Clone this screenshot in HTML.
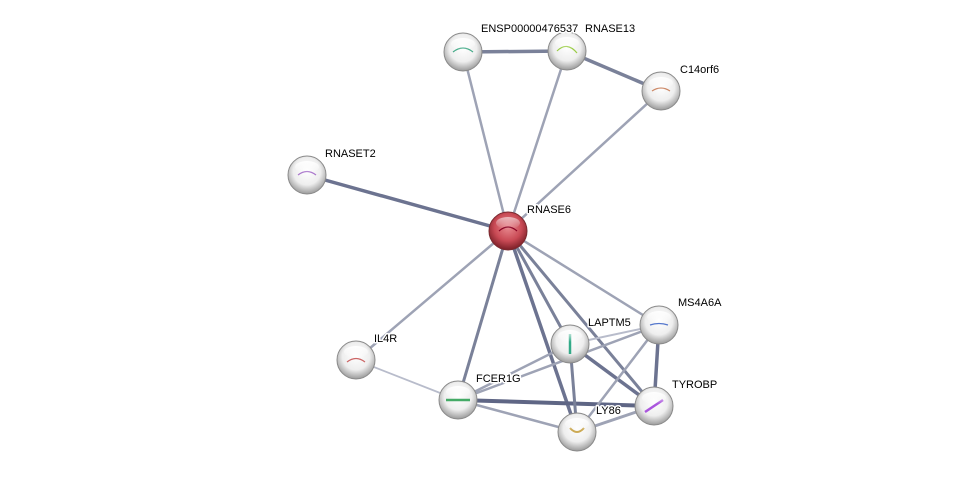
<!DOCTYPE html>
<html><head><style>
html,body{margin:0;padding:0;background:#fff;}
svg{display:block;}
text{font-family:"Liberation Sans",sans-serif;font-size:11px;fill:#000;paint-order:stroke;stroke:#fff;stroke-width:3px;stroke-linejoin:round;}
</style></head><body>
<svg width="976" height="477" viewBox="0 0 976 477" xmlns="http://www.w3.org/2000/svg">
<defs>
<radialGradient id="w" cx="50%" cy="40%" r="60%">
<stop offset="0" stop-color="#ffffff"/><stop offset="0.6" stop-color="#eeeeee"/><stop offset="1" stop-color="#9a9a9a"/>
</radialGradient>
<radialGradient id="r" cx="50%" cy="40%" r="60%">
<stop offset="0" stop-color="#e88a90"/><stop offset="0.6" stop-color="#c94a55"/><stop offset="1" stop-color="#7a1e26"/>
</radialGradient>
<linearGradient id="hl" x1="0" y1="0" x2="0" y2="1"><stop offset="0" stop-color="#fff" stop-opacity="0.95"/><stop offset="1" stop-color="#fff" stop-opacity="0"/></linearGradient>
</defs>
<g stroke-linecap="round">
<line x1="463" y1="52" x2="567" y2="51" stroke="#7a8199" stroke-width="3.5"/>
<line x1="567" y1="51" x2="661" y2="91" stroke="#7a8199" stroke-width="3.5"/>
<line x1="463" y1="52" x2="508" y2="231" stroke="#9ea3b5" stroke-width="2.5"/>
<line x1="567" y1="51" x2="508" y2="231" stroke="#9ea3b5" stroke-width="2.5"/>
<line x1="661" y1="91" x2="508" y2="231" stroke="#9ea3b5" stroke-width="2.5"/>
<line x1="307" y1="175" x2="508" y2="231" stroke="#6c7390" stroke-width="3.5"/>
<line x1="508" y1="231" x2="356" y2="360" stroke="#9ea3b5" stroke-width="2.5"/>
<line x1="508" y1="231" x2="458" y2="400" stroke="#7a8199" stroke-width="3"/>
<line x1="508" y1="231" x2="570" y2="344" stroke="#7a8199" stroke-width="3"/>
<line x1="508" y1="231" x2="577" y2="432" stroke="#6c7390" stroke-width="3.5"/>
<line x1="508" y1="231" x2="654" y2="406" stroke="#7a8199" stroke-width="3"/>
<line x1="508" y1="231" x2="659" y2="325" stroke="#9ea3b5" stroke-width="2.5"/>
<line x1="356" y1="360" x2="458" y2="400" stroke="#b8bccb" stroke-width="1.8"/>
<line x1="458" y1="400" x2="570" y2="344" stroke="#9ea3b5" stroke-width="2.5"/>
<line x1="458" y1="400" x2="659" y2="325" stroke="#9ea3b5" stroke-width="2.5"/>
<line x1="458" y1="400" x2="654" y2="406" stroke="#5f6685" stroke-width="4"/>
<line x1="458" y1="400" x2="577" y2="432" stroke="#9ea3b5" stroke-width="2.5"/>
<line x1="570" y1="344" x2="654" y2="406" stroke="#6c7390" stroke-width="3.5"/>
<line x1="570" y1="344" x2="577" y2="432" stroke="#7a8199" stroke-width="3"/>
<line x1="570" y1="344" x2="659" y2="325" stroke="#b8bccb" stroke-width="2"/>
<line x1="659" y1="325" x2="654" y2="406" stroke="#6c7390" stroke-width="3.5"/>
<line x1="659" y1="325" x2="577" y2="432" stroke="#9ea3b5" stroke-width="2.5"/>
<line x1="654" y1="406" x2="577" y2="432" stroke="#9ea3b5" stroke-width="3"/>
</g>
<g stroke="#8a8a8a" stroke-width="1">
<circle cx="463" cy="52" r="19" fill="url(#w)"/>
<circle cx="567" cy="51" r="19" fill="url(#w)"/>
<circle cx="661" cy="91" r="19" fill="url(#w)"/>
<circle cx="307" cy="175" r="19" fill="url(#w)"/>
<circle cx="508" cy="231" r="19" fill="url(#r)" stroke="#7a2a30"/>
<circle cx="659" cy="325" r="19" fill="url(#w)"/>
<circle cx="570" cy="344" r="19" fill="url(#w)"/>
<circle cx="356" cy="360" r="19" fill="url(#w)"/>
<circle cx="458" cy="400" r="19" fill="url(#w)"/>
<circle cx="654" cy="406" r="19" fill="url(#w)"/>
<circle cx="577" cy="432" r="19" fill="url(#w)"/>
</g>
<g stroke-width="1.2" fill="none">
<path d="M453 52 q10 -8 20 0" stroke="#4a8"/>
<path d="M557 51 q10 -10 20 2" stroke="#9c4"/>
<path d="M652 91 q9 -6 18 0" stroke="#c86"/>
<path d="M298 175 q9 -7 18 0" stroke="#a7c"/>
<path d="M499 231 q9 -8 18 0" stroke="#802"/>
<path d="M650 325 q9 -3 18 0" stroke="#57c"/>
<path d="M570 334 v20" stroke="#3a8" stroke-width="2.5"/>
<path d="M347 362 q9 -7 18 0" stroke="#c66"/>
<path d="M446 400 h24" stroke="#4a6" stroke-width="2.5"/>
<path d="M645 412 l18 -12" stroke="#a5d" stroke-width="2.5"/>
<path d="M570 428 q7 8 14 0" stroke="#ca5" stroke-width="2"/>
</g>
<g>
<ellipse cx="463" cy="44" rx="12" ry="6" fill="url(#hl)"/>
<ellipse cx="567" cy="43" rx="12" ry="6" fill="url(#hl)"/>
<ellipse cx="661" cy="83" rx="12" ry="6" fill="url(#hl)"/>
<ellipse cx="307" cy="167" rx="12" ry="6" fill="url(#hl)"/>
<ellipse cx="508" cy="223" rx="12" ry="6" fill="url(#hl)" opacity="0.6"/>
<ellipse cx="659" cy="317" rx="12" ry="6" fill="url(#hl)"/>
<ellipse cx="570" cy="336" rx="12" ry="6" fill="url(#hl)"/>
<ellipse cx="356" cy="352" rx="12" ry="6" fill="url(#hl)"/>
<ellipse cx="458" cy="392" rx="12" ry="6" fill="url(#hl)"/>
<ellipse cx="654" cy="398" rx="12" ry="6" fill="url(#hl)"/>
<ellipse cx="577" cy="424" rx="12" ry="6" fill="url(#hl)"/>
</g>
<text x="481" y="32">ENSP00000476537</text>
<text x="585" y="32">RNASE13</text>
<text x="680" y="73">C14orf6</text>
<text x="325" y="157">RNASET2</text>
<text x="527" y="213">RNASE6</text>
<text x="678" y="306">MS4A6A</text>
<text x="588" y="326">LAPTM5</text>
<text x="374" y="342">IL4R</text>
<text x="476" y="382">FCER1G</text>
<text x="672" y="388">TYROBP</text>
<text x="596" y="414">LY86</text>
</svg>
</body></html>
